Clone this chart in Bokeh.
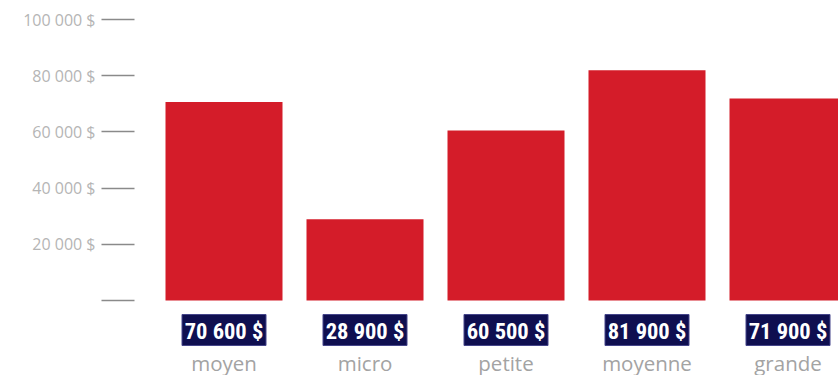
from bokeh.plotting import figure
from bokeh.models import Range1d, FixedTicker, ColumnDataSource
from bokeh.core.properties import value
from bokeh.embed import file_html
from bokeh.resources import INLINE

# ---- data ----
categories = ["moyen", "micro", "petite", "moyenne", "grande"]
salaries = [70600, 28900, 60500, 81900, 71900]
value_labels = ["70 600 $", "28 900 $", "60 500 $", "81 900 $", "71 900 $"]
tick_values = [0, 20000, 40000, 60000, 80000, 100000]
tick_labels = ["", "20 000 $", "40 000 $", "60 000 $", "80 000 $", "100 000 $"]

# ---- layout constants (pixels) ----
W, H = 838, 375
LEFT = 134
ZERO_PX = 300          # pixel row of value 0
PX_PER_UNIT = 56.2 / 20000
STEP_PX = 141          # distance between bar centres
FIRST_CENTER_PX = 223.5

def vy(px):
    return (ZERO_PX - px) / PX_PER_UNIT

x_start = (LEFT - FIRST_CENTER_PX) / STEP_PX
x_end = (W - FIRST_CENTER_PX) / STEP_PX

idx = list(range(len(categories)))
src = ColumnDataSource(dict(
    x=idx,
    top=salaries,
    cat=categories,
    lab=value_labels,
    ybox=[vy(329.5)] * len(idx),
    ytxt=[vy(330.5)] * len(idx),
    ycat=[vy(362)] * len(idx),
))

p = figure(width=W, height=H, output_backend="svg", toolbar_location=None,
           x_range=Range1d(x_start, x_end), y_range=Range1d(vy(H), vy(0)),
           x_axis_location=None, min_border_left=LEFT, min_border_right=0,
           min_border_top=0, min_border_bottom=0)
p.outline_line_color = None
p.grid.visible = False
p.background_fill_color = "white"
p.border_fill_color = "white"

p.vbar(x="x", top="top", bottom=0, width=117 / STEP_PX, source=src,
       fill_color="#d41c29", line_color=None)

p.rect(x="x", y="ybox", width=84, height=31, width_units="screen",
       height_units="screen", source=src, fill_color="#0f0f50",
       line_color="#45458a", line_width=1)

p.text(x="x", y="ytxt", text="lab", source=src, text_align="center",
       text_baseline="middle", text_color="white",
       text_font=value("Roboto Condensed"),
       text_font_style="bold", text_font_size="22.5px")

p.text(x="x", y="ycat", text="cat", source=src, text_align="center",
       text_baseline="middle", text_color="#a3a3a3",
       text_font=value("Open Sans"), text_font_size="20.5px")

ax = p.yaxis[0]
ax.ticker = FixedTicker(ticks=tick_values)
ax.major_label_overrides = {v: l for v, l in zip(tick_values, tick_labels)}
ax.axis_line_color = None
ax.major_tick_in = 0
ax.major_tick_out = 33
ax.major_tick_line_color = "#8a8a8a"
ax.major_tick_line_width = 1.3
ax.minor_tick_line_color = None
ax.major_label_standoff = 6
ax.major_label_text_color = "#b5b5b5"
ax.major_label_text_font = "Open Sans"
ax.major_label_text_font_size = "16px"

open("out.html", "w").write(file_html(p, INLINE))
